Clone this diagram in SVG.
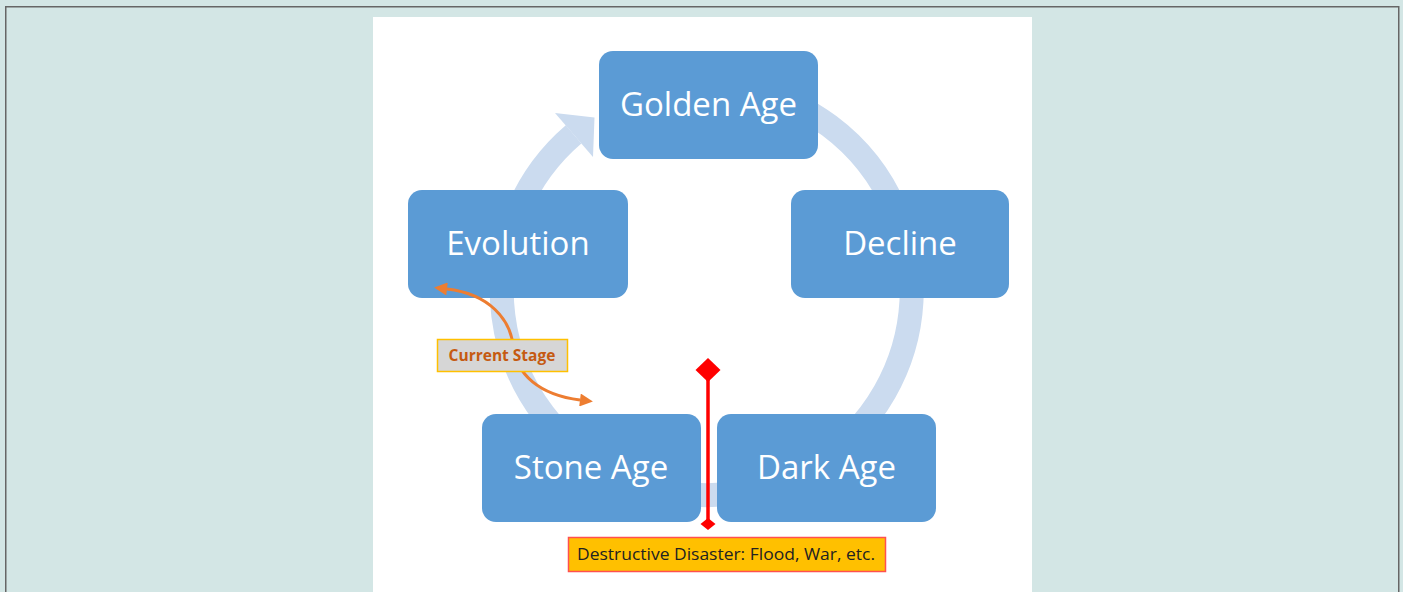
<svg xmlns="http://www.w3.org/2000/svg" width="1403" height="592" viewBox="0 0 1403 592">
  <style>
    .node rect { fill: #5b9bd5; }
    .node text { fill: #ffffff; font-family: "Open Sans", "Noto Sans", sans-serif; font-size: 33px; text-anchor: middle; }
    .ring { fill: none; stroke: #cbdbef; stroke-width: 24; }
    .orange { fill: none; stroke: #ed7d31; stroke-width: 3; }
    .red { stroke: #ff0000; stroke-width: 3.5; }
  </style>
  <defs>
    <marker id="oarrow" viewBox="0 0 10 10" refX="0" refY="5" markerUnits="userSpaceOnUse" markerWidth="14" markerHeight="13" orient="auto-start-reverse">
      <path d="M0,0 L10,5 L0,10 z" fill="#ed7d31"/>
    </marker>
  </defs>

  <!-- page -->
  <rect x="0" y="0" width="1403" height="592" fill="#d3e6e5"/>
  <rect x="5.75" y="6.75" width="1393" height="600" fill="none" stroke="#666666" stroke-width="1.5"/>
  <rect x="373" y="17" width="659" height="575" fill="#ffffff"/>

  <!-- connectors -->
  <g id="connectors">
    <path class="ring" d="M 637.0 97.4 A 205 205 0 1 1 573.6 134.3"/>
    <polygon points="555,113 594.5,117.5 593,157" fill="#cbdbef"/>
  </g>

  <!-- nodes -->
  <g id="node-golden-age" class="node">
    <rect x="599" y="51" width="219" height="108" rx="14"/>
    <text x="708.5" y="116">Golden Age</text>
  </g>
  <g id="node-decline" class="node">
    <rect x="791" y="190" width="218" height="108" rx="14"/>
    <text x="900" y="255">Decline</text>
  </g>
  <g id="node-dark-age" class="node">
    <rect x="717" y="414" width="219" height="108" rx="14"/>
    <text x="826.5" y="479">Dark Age</text>
  </g>
  <g id="node-stone-age" class="node">
    <rect x="482" y="414" width="219" height="108" rx="14"/>
    <text x="591" y="479">Stone Age</text>
  </g>
  <g id="node-evolution" class="node">
    <rect x="408" y="190" width="220" height="108" rx="14"/>
    <text x="518" y="255">Evolution</text>
  </g>

  <!-- annotations -->
  <g id="annotation-connectors">
    <path class="orange" d="M 447 289 C 490 294, 510 320, 513 345 C 516 375, 540 395, 580 400" marker-start="url(#oarrow)" marker-end="url(#oarrow)"/>
    <line class="red" x1="708" y1="370" x2="708" y2="524"/>
    <polygon points="708,358 720.5,370 708,382 695.5,370" fill="#ff0000"/>
    <polygon points="708,518 715.5,524 708,530 700.5,524" fill="#ff0000"/>
  </g>

  <g id="label-current-stage">
    <rect x="437.5" y="339.5" width="130" height="32" fill="#d6d6d6" stroke="#ffc000" stroke-width="1.5"/>
    <text x="502" y="361" fill="#c55a11" font-family="Open Sans, Noto Sans, sans-serif" font-size="15.5" font-weight="bold" text-anchor="middle">Current Stage</text>
  </g>

  <g id="label-disaster">
    <rect x="568.5" y="537.5" width="317" height="34" fill="#ffc000" stroke="#ff5050" stroke-width="1.5"/>
    <text x="577" y="560" fill="#222222" font-family="Open Sans, Noto Sans, sans-serif" font-size="15.5" textLength="298" lengthAdjust="spacingAndGlyphs">Destructive Disaster: Flood, War, etc.</text>
  </g>
</svg>
